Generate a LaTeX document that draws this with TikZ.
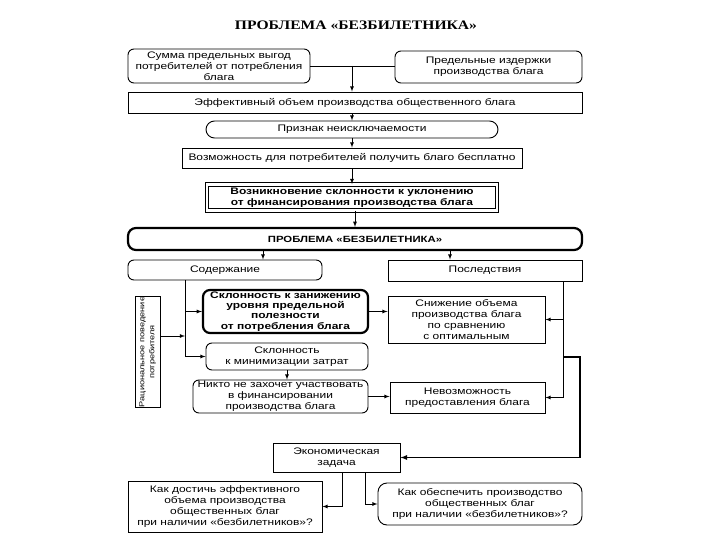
\documentclass[tikz,border=0pt]{standalone}
\usepackage{fontspec}
\setmainfont{Liberation Sans}[FakeStretch=1.26]
\newfontfamily\titlefont{Liberation Serif}[FakeStretch=1.2]
\usetikzlibrary{arrows}

\begin{document}
\begin{tikzpicture}[x=1pt,y=-1pt,
  every node/.style={align=center,inner sep=0pt,font=\fontsize{9.5}{11}\selectfont},
  box/.style={draw,line width=0.9pt},
  rbox/.style={box,rounded corners=6pt},
  heavy/.style={line width=2.2pt},
  arr/.style={-latex,line width=0.8pt}]
        \useasboundingbox[fill=white] (0,0) rectangle (720,540);
        % title
        \node[font=\titlefont\bfseries\fontsize{13}{15}\selectfont] (title) at (356,25) {ПРОБЛЕМА «БЕЗБИЛЕТНИКА»};
        % upper chain
        \node[rbox,minimum width=182,minimum height=34] (sum) at (219,66) {Сумма предельных выгод\\потребителей от потребления\\блага};
        \node[rbox,minimum width=187,minimum height=32] (cost) at (488.5,67) {Предельные издержки\\производства блага};
        \node[box,minimum width=454,minimum height=21] (eff) at (355,102.5) {Эффективный объем производства общественного блага};
        \node[box,rounded corners=8.5pt,minimum width=292,minimum height=17] (nonexcl) at (352,129.5) {Признак неисключаемости};
        \node[box,minimum width=340,minimum height=20] (free) at (352,158) {Возможность для потребителей получить благо бесплатно};
        \node[draw,double,double distance=2.5pt,line width=0.9pt,minimum width=290,minimum height=26,font=\bfseries\fontsize{9.5}{11}\selectfont] (evade) at (352,197.5) {Возникновение склонности к уклонению\\от финансирования производства блага};
        \node[box,heavy,rounded corners=8pt,minimum width=454,minimum height=22,font=\bfseries\fontsize{9}{10}\selectfont] (prob) at (355,239) {ПРОБЛЕМА «БЕЗБИЛЕТНИКА»};
        % two branches
        \node[rbox,minimum width=194,minimum height=20] (cont) at (225,270) {Содержание};
        \node[box,minimum width=194,minimum height=21] (cons) at (485,270.5) {Последствия};
        \node[box,rotate=90,minimum width=110,minimum height=25,font=\fontsize{7.3}{10}\selectfont] (rat) at (147.5,352) {Рациональное поведение\\потребителя};
        \node[box,heavy,rounded corners=7pt,minimum width=165,minimum height=43,font=\bfseries\fontsize{9.5}{10.3}\selectfont] (lowu) at (285.5,311.5) {Склонность к занижению\\уровня предельной\\полезности\\от потребления блага};
        \node[rbox,minimum width=162,minimum height=27] (minc) at (287,356.5) {Склонность\\к минимизации затрат};
        \node[rbox,minimum width=175,minimum height=33] (nobody) at (280.5,396.5) {Никто не захочет участвовать\\в финансировании\\производства блага};
        \node[box,minimum width=157,minimum height=47] (less) at (466.5,319.5) {Снижение объема\\производства блага\\по сравнению\\с оптимальным};
        \node[box,minimum width=155,minimum height=31] (imposs) at (467.5,397.5) {Невозможность\\предоставления блага};
        % lower part
        \node[box,minimum width=127,minimum height=29] (task) at (336.5,457.5) {Экономическая\\задача};
        \node[box,minimum width=194,minimum height=51] (howa) at (225,506.5) {Как достичь эффективного\\объема производства\\общественных благ\\при наличии «безбилетников»?};
        \node[rbox,rounded corners=9pt,minimum width=204,minimum height=42] (howb) at (480,504) {Как обеспечить производство\\общественных благ\\при наличии «безбилетников»?};
        % helper coordinates
        \coordinate (top) at (352,66);
        \coordinate (xl) at (263,0);
        \coordinate (xr) at (450,0);
        \coordinate (bl) at (185,0);
        \coordinate (ra) at (160,336);
        \coordinate (br) at (563,0);
        \coordinate (kink) at (563,357);
        \coordinate (far) at (580,0);
        \coordinate (ta) at (342,0);
        \coordinate (tb) at (365,0);
        % connectors
        \draw[line width=0.8pt] (sum.east) -- (sum.east -| cost.west);
        \draw[arr] (top) -- (top |- eff.north);
        \foreach \a/\b in {eff/nonexcl, nonexcl/free, free/evade, evade/prob} {
          \draw[arr] (\b.north |- \a.south) -- (\b.north);
        }
        \draw[arr] (xl |- prob.south) -- (xl |- cont.north);
        \draw[arr] (xr |- prob.south) -- (xr |- cons.north);
        \draw[line width=0.8pt] (bl |- cont.south) -- (bl |- minc.west);
        \draw[arr] (bl |- lowu.west) -- (lowu.west);
        \draw[arr] (bl |- minc.west) -- (minc.west);
        \draw[arr] (ra) -- (ra -| bl);
        \draw[arr] (minc.south) -- (minc.south |- nobody.north);
        \draw[arr] (lowu.east) -- (lowu.east -| less.west);
        \draw[arr] (nobody.east) -- (nobody.east -| imposs.west);
        \draw[line width=0.8pt] (br |- cons.south) -- (br |- imposs.east);
        \draw[arr] (br |- less.east) -- (less.east);
        \draw[arr] (br |- imposs.east) -- (imposs.east);
        \draw[arr,line width=1.3pt] (kink) -| (far |- task.east) -- (task.east);
        \draw[arr] (ta |- task.south) |- (howa.east);
        \draw[arr] (tb |- task.south) |- (howb.west);
        \end{tikzpicture}
\end{document}
